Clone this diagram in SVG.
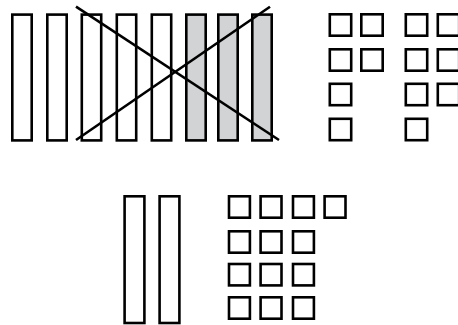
<svg xmlns="http://www.w3.org/2000/svg" width="458" height="325" viewBox="0 0 458 325">
<style>
.b{fill:#fff;stroke:#000;stroke-width:2.6}
.g{fill:#d1d3d4;stroke:#000;stroke-width:2.6}
.l{stroke:#000;stroke-width:2.6;fill:none}
</style>
<rect width="458" height="325" fill="#fff"/>
<g id="bars-top">
<rect class="b" x="12.3" y="14.6" width="19.4" height="125.8"/>
<rect class="b" x="47.3" y="14.6" width="19.4" height="125.8"/>
<rect class="b" x="81.8" y="14.6" width="19.4" height="125.8"/>
<rect class="b" x="116.8" y="14.6" width="19.4" height="125.8"/>
<rect class="b" x="151.8" y="14.6" width="19.4" height="125.8"/>
<rect class="g" x="186.3" y="14.6" width="19.4" height="125.8"/>
<rect class="g" x="218.3" y="14.6" width="19.4" height="125.8"/>
<rect class="g" x="252.3" y="14.6" width="19.4" height="125.8"/>
</g>
<g id="cross">
<line class="l" x1="76" y1="6.7" x2="279" y2="140"/>
<line class="l" x1="76" y1="140" x2="270" y2="6.7"/>
</g>
<g id="squares-top">
<rect class="b" x="329.8" y="14.3" width="21.4" height="21.4"/>
<rect class="b" x="329.8" y="49.3" width="21.4" height="21.4"/>
<rect class="b" x="329.8" y="83.8" width="21.4" height="21.4"/>
<rect class="b" x="329.8" y="118.8" width="21.4" height="21.4"/>
<rect class="b" x="361.3" y="14.3" width="21.4" height="21.4"/>
<rect class="b" x="361.3" y="49.3" width="21.4" height="21.4"/>
<rect class="b" x="405.8" y="14.3" width="21.4" height="21.4"/>
<rect class="b" x="405.8" y="49.3" width="21.4" height="21.4"/>
<rect class="b" x="405.8" y="83.8" width="21.4" height="21.4"/>
<rect class="b" x="405.8" y="118.8" width="21.4" height="21.4"/>
<rect class="b" x="437.8" y="14.3" width="21.4" height="21.4"/>
<rect class="b" x="437.8" y="49.3" width="21.4" height="21.4"/>
<rect class="b" x="437.8" y="83.8" width="21.4" height="21.4"/>
</g>
<g id="bars-bottom">
<rect class="b" x="124.6" y="196.3" width="19.8" height="126.7"/>
<rect class="b" x="159.6" y="196.3" width="19.8" height="126.7"/>
</g>
<g id="squares-bottom">
<rect class="b" x="229" y="196.3" width="20.9" height="21.4"/>
<rect class="b" x="260.6" y="196.3" width="20.9" height="21.4"/>
<rect class="b" x="293" y="196.3" width="20.9" height="21.4"/>
<rect class="b" x="324.6" y="196.3" width="20.9" height="21.4"/>
<rect class="b" x="229" y="231.3" width="20.9" height="21.4"/>
<rect class="b" x="260.6" y="231.3" width="20.9" height="21.4"/>
<rect class="b" x="293" y="231.3" width="20.9" height="21.4"/>
<rect class="b" x="229" y="264" width="20.9" height="21.4"/>
<rect class="b" x="260.6" y="264" width="20.9" height="21.4"/>
<rect class="b" x="293" y="264" width="20.9" height="21.4"/>
<rect class="b" x="229" y="297.3" width="20.9" height="21.4"/>
<rect class="b" x="260.6" y="297.3" width="20.9" height="21.4"/>
<rect class="b" x="293" y="297.3" width="20.9" height="21.4"/>
</g>
</svg>
